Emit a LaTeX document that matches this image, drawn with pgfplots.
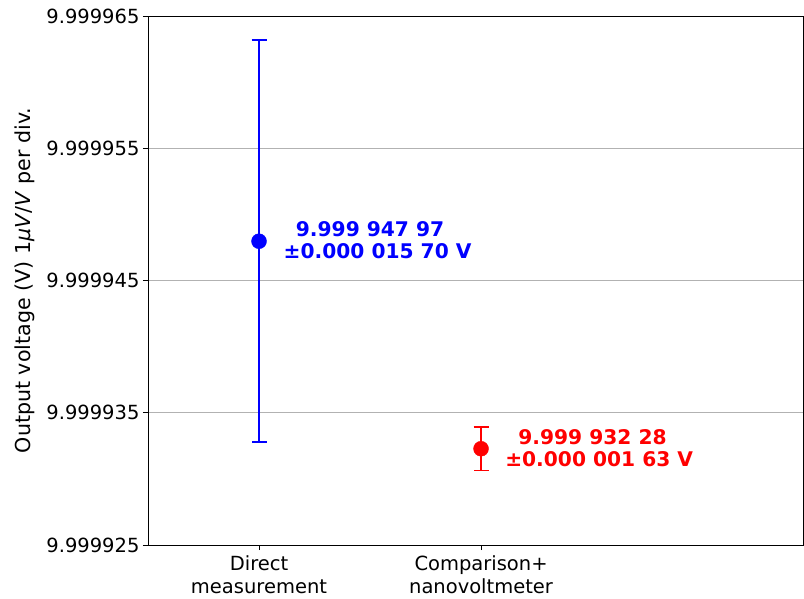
\documentclass[border=0pt]{standalone}
\usepackage{pgfplots}
\pgfplotsset{compat=1.18}
\usepackage{fontspec}
\setmainfont{DejaVu Sans}
\begin{document}
\begin{tikzpicture}
\useasboundingbox (-148pt,-53pt) rectangle (656pt,545pt);
\begin{axis}[
  at={(0,0)}, anchor=south west,
  scale only axis, width=655pt, height=529pt,
  xmin=-0.5, xmax=2.45, ymin=0, ymax=40,
  xtick={0,1},
  xticklabels={Direct\\measurement, Comparison+\\nanovoltmeter},
  x tick label style={align=center, font=\fontsize{19.5}{23.3}\selectfont, yshift=-2pt},
  ytick={0,10,20,30,40},
  yticklabels={9.999925,9.999935,9.999945,9.999955,9.999965},
  y tick label style={font=\fontsize{19.5}{23}\selectfont},
  ymajorgrids,
  major grid style={color=black!30, line width=0.9pt},
  tick align=outside, tick pos=left, major tick length=5pt,
  tick style={black, line width=0.9pt},
  axis line style={line width=0.9pt},
  ylabel={Output voltage (V) 1\textit{μV}/\textit{V} per div.},
  ylabel style={font=\fontsize{20.6}{24}\selectfont, at={(ticklabel cs:0.5,5pt)}},
  clip=false,
]
\addplot[blue, only marks, mark=*, mark size=7.5pt,
  error bars/.cd, y dir=both, y explicit,
  error bar style={line width=1.5pt, blue},
  error mark options={rotate=90, mark size=7.5pt, line width=1.5pt, blue}]
  coordinates {(0,22.97) +- (0,15.2)};
\addplot[red, only marks, mark=*, mark size=7.5pt,
  error bars/.cd, y dir=both, y explicit,
  error bar style={line width=1.5pt, red},
  error mark options={rotate=90, mark size=7.5pt, line width=1.5pt, red}]
  coordinates {(1,7.28) +- (0,1.63)};
\node[blue, font=\bfseries\fontsize{20.2}{24}\selectfont, anchor=base] at (axis cs:0.5,23.36) {9.999 947 97};
\node[blue, font=\bfseries\fontsize{20.2}{24}\selectfont, anchor=base] at (axis cs:0.534,21.63) {±0.000 015 70 V};
\node[red, font=\bfseries\fontsize{20.2}{24}\selectfont, anchor=base] at (axis cs:1.502,7.61) {9.999 932 28};
\node[red, font=\bfseries\fontsize{20.2}{24}\selectfont, anchor=base] at (axis cs:1.532,5.92) {±0.000 001 63 V};
\end{axis}
\end{tikzpicture}
\end{document}
